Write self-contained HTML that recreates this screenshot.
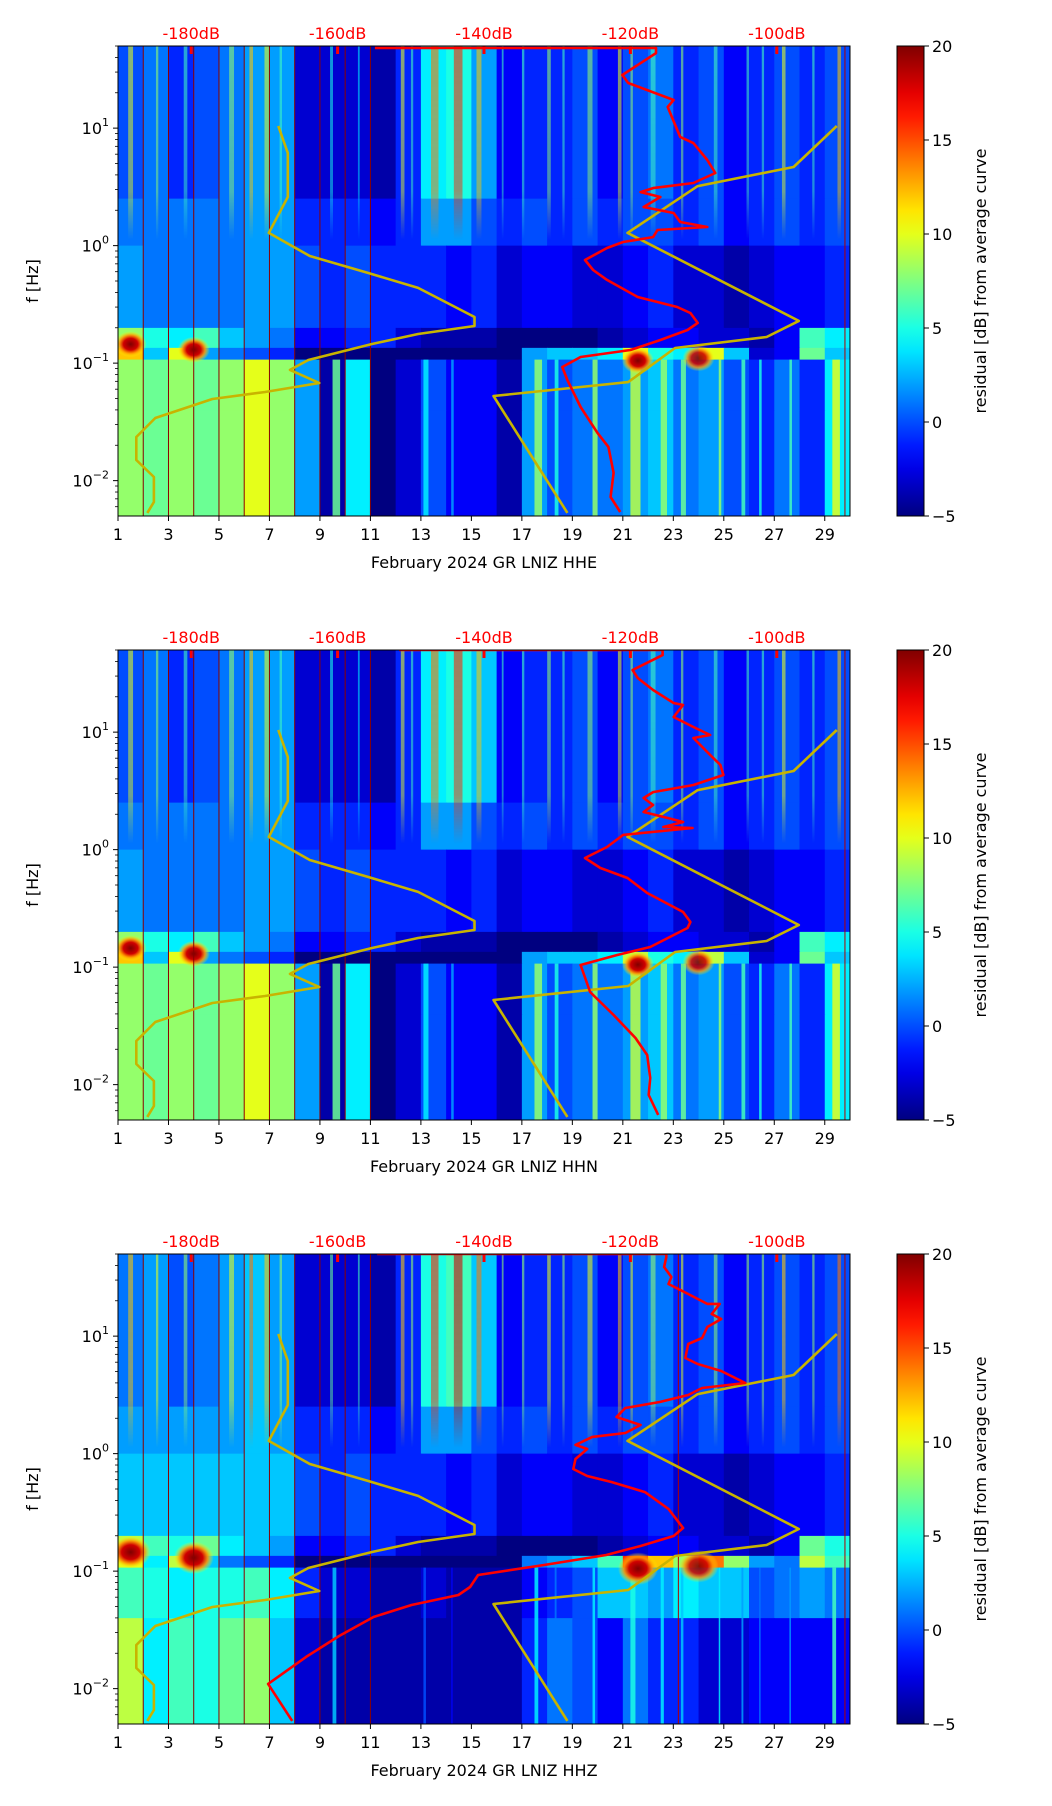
<!DOCTYPE html>
<html><head><meta charset="utf-8"><style>
html,body{margin:0;padding:0;background:#fff;}
svg{display:block;font-family:"DejaVu Sans","Liberation Sans",sans-serif;}
</style></head><body>
<svg id="fig" width="1052" height="1806" viewBox="0 0 1052 1806" xmlns="http://www.w3.org/2000/svg"></svg>
<script>
// ---------- data ----------
const dayTicks=[1,3,5,7,9,11,13,15,17,19,21,23,25,27,29];
const freqTickExp=[-2,-1,0,1];
const dbTicks=[-180,-160,-140,-120,-100];
const cbTicks=[-5,0,5,10,15,20];
const channels=["HHE","HHN","HHZ"];
const bandEdgesLog=[1.699,0.4,0.0,-0.7,-0.87,-0.97,-1.4,-2.301];
// per-day band values (days 1..29), HHE
const e0=[0,1,-1,0,1,2,2,-3,-3,-3,-4,-1,4,5,2,-2,-1,-1,0,-2,0,1,-1,0,-2,-1,0,-1,0];
const e1=[1,1,1,1,1,2,2,-1,-1,-1,-2,-1,2,2,0,-1,0,-1,0,-1,0,0,-1,0,-2,-1,0,-1,0];
const e2=[2,1,1,1,1,2,2,0,-1,0,-1,-1,-1,-2,-1,-3,-2,-2,-3,-3,-2,-1,-3,-3,-4,-3,-2,-2,-1];
const e3=[8,5,4,6,3,2,1,-2,-2,-1,-1,-3,-4,-4,-4,-5,-5,-5,-5,-4,-3,-2,-2,-3,-3,-4,-2,6,4];
const e4=[12,3,10,2,1,0,-1,-5,-5,-5,-5,-5,-5,-5,-5,-5,2,3,3,4,10,5,4,10,3,-3,-2,7,3];
const e5=[8,7,8,7,8,10,8,2,-4,4,-5,-3,0,-2,-2,-4,2,0,1,1,2,3,1,2,0,-1,1,-1,4];
const e6=[8,7,8,7,8,10,8,2,-4,4,-5,-3,0,-2,-2,-4,2,0,1,1,2,3,1,2,0,-1,1,-1,4];
// HHN
const n0=[0,1,-1,0,1,2,2,-3,-3,-3,-4,-1,4,5,3,-2,-1,-1,0,-2,0,1,-1,0,-2,-1,0,-1,0];
const n1=[1,1,1,1,1,2,2,-1,-1,-1,-2,-1,2,2,0,-1,0,-1,0,-1,0,0,-1,0,-2,-1,0,-1,0];
const n2=[2,1,1,1,1,2,2,0,-1,0,-1,-1,-1,-2,-1,-3,-2,-2,-3,-3,-2,-1,-3,-3,-4,-3,-2,-2,-1];
const n3=[8,5,4,6,3,2,1,-2,-2,-1,-1,-3,-4,-4,-4,-5,-5,-5,-5,-4,-3,-2,-2,-3,-3,-4,-2,6,4];
const n4=[12,3,10,2,1,0,-1,-5,-5,-5,-5,-5,-5,-5,-5,-5,2,3,3,4,9,5,4,9,3,-3,-2,7,3];
const n5=[8,7,8,7,8,10,8,2,-4,4,-5,-3,0,-2,-2,-4,2,0,1,1,2,3,1,2,0,-1,1,-1,4];
const n6=[8,7,8,7,8,10,8,2,-4,4,-5,-3,0,-2,-2,-4,2,0,1,1,2,3,1,2,0,-1,1,-1,4];
// HHZ
const z0=[1,2,0,1,2,3,2,-3,-3,-3,-4,-1,5,6,3,-2,-1,-1,0,-2,0,1,-1,0,-2,-1,0,-1,0];
const z1=[2,2,2,2,2,3,2,-1,-1,-1,-2,-1,2,2,0,-1,0,-1,0,-1,0,0,-1,0,-2,-1,0,-1,0];
const z2=[3,3,3,3,3,3,3,0,-1,0,-1,-1,-1,-2,-1,-3,-2,-2,-3,-3,-2,-1,-3,-3,-4,-3,-2,-2,-1];
const z3=[9,6,5,7,4,3,2,-2,-2,-1,-1,-3,-4,-4,-4,-5,-5,-5,-5,-4,-3,-2,-2,-3,-3,-4,-2,7,5];
const z4=[10,4,9,3,1,0,-1,-5,-5,-5,-5,-5,-5,-5,-5,-5,1,2,3,6,16,12,8,14,8,2,1,9,6];
const z5=[6,5,4,5,5,6,4,-1,-3,-3,-4,-4,-3,-4,-4,-4,-2,-1,0,3,3,2,4,3,3,0,1,2,1];
const z6=[9,4,6,5,7,8,3,-3,-4,-4,-4,-4,-4,-4,-4,-4,-1,1,0,-2,1,-1,-1,-3,-3,-2,-2,-2,-2];
// stripes: day, width (days), value
const hfStripeDay=[1.4,2.5,3.6,5.4,6.2,6.8,7.4,9.4,10.5,12.2,12.6,13.4,14.3,15.2,16.2,17.0,18.0,18.6,19.6,20.8,21.3,22.1,23.3,24.6,25.9,26.5,27.3,28.5,29.5];
const hfStripeW=[0.2,0.1,0.15,0.2,0.15,0.2,0.1,0.12,0.08,0.15,0.1,0.3,0.35,0.2,0.08,0.1,0.15,0.1,0.2,0.15,0.1,0.2,0.1,0.15,0.1,0.1,0.15,0.1,0.15];
const hfStripeV=[10,8,6,8,12,10,6,5,4,10,6,14,16,12,6,6,8,6,8,10,8,6,8,6,6,6,10,6,12];
const lfStripeDay=[9.5,13.1,14.2,17.5,18.3,19.8,21.3,22.5,23.3,24.8,25.7,26.4,27.6,29.3];
const lfStripeW=[0.3,0.2,0.1,0.3,0.15,0.2,0.4,0.25,0.2,0.1,0.15,0.1,0.1,0.3];
const lfStripeV=[7,4,2,8,5,8,9,8,7,8,6,5,6,10];
// blobs: day, freq (Hz), value
const blobDay=[1.5,4.0,21.6,24.0];
const blobFreq=[0.145,0.13,0.105,0.11];
const blobV=[19,19,18,16];
// NLNM / NHNM (dB, log10 f)
const nlnmDb=[-168.1,-166.8,-166.8,-169.4,-163.8,-155.8,-149.0,-141.3,-141.3,-149.0,-155.3,-164.0,-166.5,-162.5,-169.9,-177.1,-184.9,-187.5,-187.5,-185.1,-185.1,-186.0];
const nlnmLogF=[1.018,0.788,0.414,0.108,-0.088,-0.233,-0.360,-0.607,-0.684,-0.752,-0.837,-0.973,-1.058,-1.169,-1.246,-1.305,-1.467,-1.629,-1.824,-1.969,-2.182,-2.275];
const nhnmDb=[-91.8,-97.7,-110.8,-120.4,-97.0,-101.4,-113.9,-120.3,-138.7,-128.6];
const nhnmLogF=[1.018,0.669,0.507,0.108,-0.641,-0.778,-0.871,-1.161,-1.280,-2.275];
// average curves (dB, log10 f)
const avgDbE=[-154.9,-116.5,-116.5,-121.1,-120.3,-114.1,-114.9,-113.2,-111.4,-109.5,-108.4,-111.4,-116.9,-118.6,-115.9,-118.2,-114.1,-113.2,-109.5,-116.3,-116.9,-121.0,-123.2,-126.2,-125.1,-123.2,-119.0,-113.6,-111.8,-110.8,-112.2,-115.9,-120.0,-126.8,-129.3,-128.6,-126.8,-124.5,-123.0,-122.3,-122.7,-121.4];
const avgLogFE=[1.682,1.682,1.639,1.452,1.384,1.239,1.18,0.925,0.873,0.729,0.618,0.533,0.490,0.456,0.414,0.329,0.278,0.201,0.159,0.133,0.073,0.031,-0.020,-0.122,-0.207,-0.292,-0.437,-0.522,-0.573,-0.658,-0.718,-0.803,-0.888,-0.948,-1.033,-1.144,-1.373,-1.594,-1.713,-1.934,-2.139,-2.267];
const avgDbN=[-151.6,-115.6,-115.6,-119.7,-119.0,-116.9,-114.1,-112.8,-114.1,-111.4,-109.1,-111.4,-109.1,-107.7,-107.3,-111.4,-116.9,-118.2,-116.9,-118.2,-114.9,-112.8,-115.5,-111.5,-121.0,-123.2,-126.2,-124.1,-120.4,-117.7,-112.8,-111.8,-112.2,-117.3,-121.8,-126.8,-125.5,-122.3,-119.3,-117.7,-117.3,-117.5,-116.2];
const avgLogFN=[1.699,1.699,1.656,1.529,1.461,1.359,1.248,1.231,1.129,1.044,0.976,0.950,0.805,0.720,0.635,0.550,0.490,0.439,0.380,0.320,0.269,0.235,0.193,0.184,0.125,0.022,-0.071,-0.156,-0.241,-0.369,-0.531,-0.616,-0.667,-0.829,-0.897,-0.982,-1.212,-1.407,-1.603,-1.748,-1.943,-2.088,-2.258];
const avgDbZ=[-154.6,-115.1,-115.1,-115.4,-114.4,-114.8,-112.1,-109.5,-107.8,-108.9,-107.6,-109.5,-110.2,-112.1,-112.5,-110.8,-107.6,-104.3,-110.2,-112.1,-116.0,-120.7,-121.9,-118.6,-120.7,-125.2,-127.5,-125.9,-127.5,-127.8,-125.9,-122.6,-118.0,-114.8,-112.8,-114.1,-118.6,-123.3,-131.8,-140.8,-141.9,-143.5,-149.9,-155.1,-159.8,-164.3,-169.5,-166.2];
const avgLogFZ=[1.699,1.699,1.673,1.588,1.503,1.444,1.359,1.274,1.274,1.188,1.146,1.078,0.984,0.933,0.814,0.763,0.703,0.601,0.559,0.499,0.439,0.388,0.312,0.244,0.176,0.142,0.074,0.039,-0.046,-0.131,-0.190,-0.241,-0.327,-0.471,-0.633,-0.701,-0.786,-0.863,-0.948,-1.033,-1.135,-1.203,-1.288,-1.390,-1.552,-1.730,-1.960,-2.275];
const vLineDays=[2,3,4,5,6,7,8,9,10,11,29.8];

// ---------- helpers ----------
const NS="http://www.w3.org/2000/svg";
const svg=document.getElementById('fig');
function mk(tag,attrs,parent){const e=document.createElementNS(NS,tag);for(const k in attrs)e.setAttribute(k,attrs[k]);(parent||svg).appendChild(e);return e;}
function jet(v){let t=(v+5)/25;t=Math.max(0,Math.min(1,t));
 const c=x=>Math.round(255*Math.max(0,Math.min(1,1.5-Math.abs(4*t-x))));
 return `rgb(${c(3)},${c(2)},${c(1)})`;}
const L=118,R=850,H=470,tops=[46,650,1254];
const xDay=d=>L+(d-1)*(R-L)/29;
const xDb=db=>L+(db+190)*(R-L)/100;
const yLog=(top,lf)=>top+(1.699-lf)*H/4;

const bandSets=[[e0,e1,e2,e3,e4,e5,e6],[n0,n1,n2,n3,n4,n5,n6],[z0,z1,z2,z3,z4,z5,z6]];
const avgDb=[avgDbE,avgDbN,avgDbZ], avgLf=[avgLogFE,avgLogFN,avgLogFZ];

const defs=mk('defs',{});
const lg=mk('linearGradient',{id:'jetg',x1:0,y1:1,x2:0,y2:0},defs);
for(let i=0;i<=20;i++){mk('stop',{offset:(i/20),'stop-color':jet(-5+25*i/20)},lg);}
const bg=mk('radialGradient',{id:'blobg'},defs);
mk('stop',{offset:0,'stop-color':'#800000'},bg);
mk('stop',{offset:0.45,'stop-color':'#d00000'},bg);
mk('stop',{offset:0.7,'stop-color':'#ff9000','stop-opacity':0.9},bg);
mk('stop',{offset:1,'stop-color':'#ffff00','stop-opacity':0},bg);
const sg=mk('linearGradient',{id:'stripefade',x1:0,y1:0,x2:0,y2:1},defs);
mk('stop',{offset:0,'stop-color':'#fff','stop-opacity':1},sg);
mk('stop',{offset:0.75,'stop-color':'#fff','stop-opacity':0.8},sg);
mk('stop',{offset:1,'stop-color':'#fff','stop-opacity':0},sg);
const mask=mk('mask',{id:'fadeMask',maskContentUnits:'objectBoundingBox'},defs);
mk('rect',{x:0,y:0,width:1,height:1,fill:'url(#stripefade)'},mask);
tops.forEach((T,p)=>{const cp=mk('clipPath',{id:'clip'+p},defs);mk('rect',{x:L,y:T,width:R-L,height:H},cp);});

tops.forEach((T,p)=>{
 const g=mk('g',{'clip-path':`url(#clip${p})`});
 
 
 mk('rect',{x:L,y:T,width:R-L,height:H,fill:'#00007f'},g);
 const bands=bandSets[p];
 bands.forEach((arr,b)=>{
  const y0=yLog(T,bandEdgesLog[b]), y1=yLog(T,bandEdgesLog[b+1]);
  arr.forEach((v,i)=>{
   const r=mk('rect',{x:xDay(i+1),y:y0,width:(R-L)/29+0.6,height:y1-y0+0.6,fill:jet(v)},g);
   
   
  });
 });
 hfStripeDay.forEach((d,i)=>{
  const v=hfStripeV[i]+(p===2?2:0);
  const r=mk('rect',{x:xDay(d),y:T,width:Math.max(1.5,hfStripeW[i]*(R-L)/29),height:yLog(T,0.05)-T,fill:jet(v),opacity:0.6,mask:'url(#fadeMask)'},g);
  
  
 });
 lfStripeDay.forEach((d,i)=>{
  const v=p===2?lfStripeV[i]-4:lfStripeV[i];
  const r=mk('rect',{x:xDay(d),y:yLog(T,-0.97),width:Math.max(1.5,lfStripeW[i]*(R-L)/29*(p===2?0.5:1)),height:yLog(T,-2.301)-yLog(T,-0.97),fill:jet(v),opacity:0.85},g);
  
  
 });
 blobDay.forEach((d,i)=>{
  const cx=xDay(d), cy=yLog(T,Math.log10(blobFreq[i]));
  const s=p===2?1.25:1;
  const e=mk('ellipse',{cx:cx,cy:cy,rx:16*s,ry:13*s,fill:'url(#blobg)',opacity:Math.min(1,blobV[i]/18)},g);
  
  
 });
 vLineDays.concat(p===2?[23.2]:[]).forEach(d=>{
  const l=mk('line',{x1:xDay(d),x2:xDay(d),y1:T,y2:T+H,stroke:d>23?'#b00000':'#8b0000','stroke-width':1},g);
  
  
 });
 const pl=(dbs,lfs)=>dbs.map((db,i)=>xDb(db).toFixed(1)+','+yLog(T,lfs[i]).toFixed(1)).join(' ');
 const n1l=mk('polyline',{points:pl(nlnmDb,nlnmLogF),fill:'none',stroke:'#c8b400','stroke-width':2.6,'stroke-linejoin':'round'},g);
 
 
 const n2l=mk('polyline',{points:pl(nhnmDb,nhnmLogF),fill:'none',stroke:'#c8b400','stroke-width':2.6,'stroke-linejoin':'round'},g);
 
 
 const av=mk('polyline',{points:pl(avgDb[p],avgLf[p]),fill:'none',stroke:'#ff0000','stroke-width':2.6,'stroke-linejoin':'round'},g);
 
 
 dbTicks.forEach(db=>{
  const t=mk('rect',{x:xDb(db)-1.5,y:T,width:3,height:8,fill:'#ff0000'},g);
  
  
 });

 const fr=mk('rect',{x:L,y:T,width:R-L,height:H,fill:'none',stroke:'#000','stroke-width':1});
 
 
 dayTicks.forEach(d=>{
  mk('line',{x1:xDay(d),x2:xDay(d),y1:T+H,y2:T+H+5,stroke:'#000'});
  const t=mk('text',{x:xDay(d),y:T+H+24,'font-size':16,'text-anchor':'middle'});
  t.textContent=d;
  
  
 });
 freqTickExp.forEach(e=>{
  const y=yLog(T,e);
  mk('line',{x1:L-5,x2:L,y1:y,y2:y,stroke:'#000'});
  const t=mk('text',{x:L-9,y:y+6,'font-size':16,'text-anchor':'end'});
  
  
  const a=mk('tspan',{},t);a.textContent='10';
  const b=mk('tspan',{dy:-8,'font-size':11},t);b.textContent=(e<0?'\u2212':'')+Math.abs(e);
 });
 for(let e=-3;e<=1;e++)for(let m=2;m<=9;m++){const lf=e+Math.log10(m);if(lf<-2.301||lf>1.699)continue;
  const y=yLog(T,lf);mk('line',{x1:L-3,x2:L,y1:y,y2:y,stroke:'#000','stroke-width':0.8});}
 dbTicks.forEach(db=>{
  const t=mk('text',{x:xDb(db),y:T-7,'font-size':16,'text-anchor':'middle',fill:'#ff0000'});
  t.textContent=db+'dB';
  
  
 });
 const xt=mk('text',{x:(L+R)/2,y:T+H+52,'font-size':16,'text-anchor':'middle','xml:space':'preserve'});
 xt.textContent='February 2024 GR LNIZ  '+channels[p];
 
 
 const yt=mk('text',{x:0,y:0,'font-size':16,'text-anchor':'middle',transform:`translate(38,${T+H/2}) rotate(-90)`});
 yt.textContent='f [Hz]';
 
 
 const cb=mk('rect',{x:897,y:T,width:27,height:H,fill:'url(#jetg)',stroke:'#000','stroke-width':1});
 
 
 cbTicks.forEach(v=>{
  const y=T+H-(v+5)/25*H;
  mk('line',{x1:924,x2:929,y1:y,y2:y,stroke:'#000'});
  const t=mk('text',{x:932,y:y+6,'font-size':16});
  t.textContent=(v<0?'\u2212':'')+Math.abs(v);
  
  
 });
 const cl=mk('text',{x:0,y:0,'font-size':16,'text-anchor':'middle',transform:`translate(986,${T+H/2}) rotate(-90)`});
 cl.textContent='residual [dB] from average curve';
 
 
});
</script>
</body></html>
